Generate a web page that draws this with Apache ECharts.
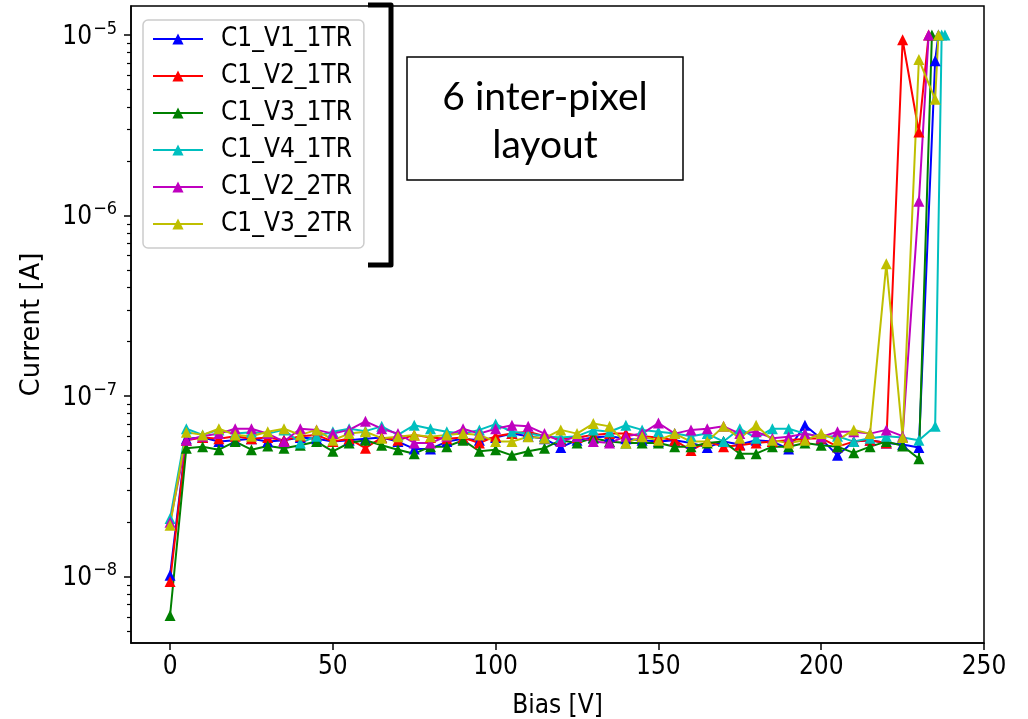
<!DOCTYPE html>
<html>
<head>
<meta charset="utf-8">
<script src="https://cdn.jsdelivr.net/npm/echarts@6/dist/echarts.min.js"></script>
<style>
  html, body { margin: 0; padding: 0; background: #fff; }
  #chart { width: 1028px; height: 719px; }
</style>
</head>
<body>
<div id="chart"></div>
<script>
// bias steps shared by all devices (V)
const biasV = [0, 5, 10, 15, 20, 25, 30, 35, 40, 45, 50, 55, 60, 65, 70, 75, 80, 85, 90, 95,
  100, 105, 110, 115, 120, 125, 130, 135, 140, 145, 150, 155, 160, 165, 170, 175, 180, 185, 190, 195,
  200, 205, 210, 215, 220, 225, 230];

// current (A) at each bias step
const curV1_1TR = [1.02e-8, 5.8e-8, 5.9e-8, 5.6e-8, 5.7e-8, 5.8e-8, 5.6e-8, 5.7e-8, 5.9e-8, 5.8e-8,
  5.6e-8, 5.7e-8, 5.8e-8, 5.9e-8, 5.6e-8, 5.1e-8, 5.1e-8, 5.6e-8, 5.8e-8, 5.7e-8,
  5.9e-8, 6.2e-8, 6.0e-8, 5.8e-8, 5.2e-8, 5.7e-8, 5.9e-8, 6.0e-8, 5.8e-8, 5.7e-8,
  5.6e-8, 5.7e-8, 5.5e-8, 5.2e-8, 5.6e-8, 5.4e-8, 5.7e-8, 5.6e-8, 5.1e-8, 6.9e-8,
  5.8e-8, 4.7e-8, 5.6e-8, 5.7e-8, 5.5e-8, 5.4e-8, 5.2e-8];
const curV2_1TR = [9.4e-9, 5.7e-8, 5.9e-8, 5.8e-8, 6.0e-8, 5.8e-8, 5.9e-8, 5.7e-8, 6.0e-8, 6.1e-8,
  5.6e-8, 5.8e-8, 5.15e-8, 5.9e-8, 5.7e-8, 6.1e-8, 5.9e-8, 5.8e-8, 5.9e-8, 5.5e-8,
  6.0e-8, 6.2e-8, 6.35e-8, 6.0e-8, 5.8e-8, 5.9e-8, 6.1e-8, 6.2e-8, 6.2e-8, 6.0e-8,
  5.9e-8, 5.7e-8, 5.0e-8, 5.6e-8, 5.25e-8, 5.35e-8, 5.5e-8, 5.6e-8, 5.7e-8, 5.8e-8,
  5.85e-8, 5.25e-8, 5.6e-8, 5.7e-8, 5.5e-8, 9.4e-6, 2.9e-6];
const curV3_1TR = [6.1e-9, 5.15e-8, 5.25e-8, 5.05e-8, 5.6e-8, 5.05e-8, 5.3e-8, 5.15e-8, 5.35e-8, 5.6e-8,
  4.95e-8, 5.5e-8, 5.7e-8, 5.35e-8, 5.05e-8, 4.8e-8, 5.25e-8, 5.25e-8, 5.7e-8, 4.95e-8,
  5.05e-8, 4.7e-8, 4.95e-8, 5.15e-8, 5.7e-8, 5.5e-8, 5.85e-8, 5.6e-8, 5.5e-8, 5.5e-8,
  5.5e-8, 5.25e-8, 5.25e-8, 5.5e-8, 5.6e-8, 4.8e-8, 4.8e-8, 5.25e-8, 5.25e-8, 5.5e-8,
  5.35e-8, 5.25e-8, 4.85e-8, 5.25e-8, 5.6e-8, 5.3e-8, 4.5e-8];
const curV4_1TR = [2.1e-8, 6.6e-8, 6.1e-8, 6.5e-8, 6.2e-8, 6.3e-8, 6.2e-8, 6.5e-8, 5.5e-8, 6.0e-8,
  6.35e-8, 6.6e-8, 6.4e-8, 6.8e-8, 6.1e-8, 6.9e-8, 6.6e-8, 6.35e-8, 6.2e-8, 6.5e-8,
  7.0e-8, 6.35e-8, 6.2e-8, 6.0e-8, 5.9e-8, 6.0e-8, 6.5e-8, 6.35e-8, 6.9e-8, 6.5e-8,
  6.35e-8, 6.2e-8, 6.0e-8, 6.2e-8, 5.6e-8, 6.6e-8, 5.85e-8, 6.6e-8, 6.6e-8, 6.2e-8,
  5.95e-8, 6.0e-8, 5.6e-8, 5.85e-8, 6.0e-8, 5.9e-8, 5.7e-8];
const curV2_2TR = [2.0e-8, 5.7e-8, 6.0e-8, 6.2e-8, 6.6e-8, 6.6e-8, 6.2e-8, 5.6e-8, 6.6e-8, 6.5e-8,
  6.2e-8, 6.5e-8, 7.25e-8, 6.6e-8, 6.2e-8, 5.5e-8, 5.5e-8, 6.0e-8, 6.6e-8, 6.2e-8,
  6.6e-8, 6.9e-8, 6.8e-8, 6.2e-8, 5.6e-8, 6.0e-8, 5.6e-8, 5.5e-8, 6.0e-8, 6.2e-8,
  7.1e-8, 6.2e-8, 6.5e-8, 6.6e-8, 6.8e-8, 6.2e-8, 6.35e-8, 5.85e-8, 5.95e-8, 6.2e-8,
  5.95e-8, 6.35e-8, 6.35e-8, 6.2e-8, 6.5e-8, 6.0e-8, 1.2e-6];
const curV3_2TR = [1.93e-8, 6.3e-8, 6.1e-8, 6.6e-8, 6.1e-8, 6.0e-8, 6.35e-8, 6.6e-8, 6.1e-8, 6.5e-8,
  5.7e-8, 6.2e-8, 6.35e-8, 5.85e-8, 5.95e-8, 6.1e-8, 5.95e-8, 6.1e-8, 6.2e-8, 6.1e-8,
  5.6e-8, 5.6e-8, 5.95e-8, 5.85e-8, 6.5e-8, 6.2e-8, 7.05e-8, 6.8e-8, 5.5e-8, 5.95e-8,
  5.7e-8, 6.2e-8, 5.6e-8, 5.6e-8, 6.8e-8, 5.85e-8, 6.9e-8, 5.7e-8, 5.5e-8, 5.7e-8,
  6.2e-8, 5.7e-8, 6.5e-8, 6.2e-8, 5.4e-7, 5.9e-8, 7.3e-6];

// extra points measured after breakdown
const tailBiasV1_1TR = [235, 236], tailCurV1_1TR = [7.2e-6, 1.0e-5];
const tailBiasV2_1TR = [233], tailCurV2_1TR = [1.0e-5];
const tailBiasV3_1TR = [234], tailCurV3_1TR = [1.0e-5];
const tailBiasV4_1TR = [235, 237, 238], tailCurV4_1TR = [6.8e-8, 1.0e-5, 1.0e-5];
const tailBiasV2_2TR = [233], tailCurV2_2TR = [1.0e-5];
const tailBiasV3_2TR = [235, 236], tailCurV3_2TR = [4.4e-6, 1.0e-5];

const names = ['C1_V1_1TR', 'C1_V2_1TR', 'C1_V3_1TR', 'C1_V4_1TR', 'C1_V2_2TR', 'C1_V3_2TR'];
const colors = ['#0000ff', '#ff0000', '#008000', '#00bfbf', '#bf00bf', '#bfbf00'];

const xTicks = [0, 50, 100, 150, 200, 250];
const yMajorExp = [-8, -7, -6, -5];
const yMinorMult = [2, 3, 4, 5, 6, 7, 8, 9];

const curves = [
  [curV1_1TR, tailBiasV1_1TR, tailCurV1_1TR],
  [curV2_1TR, tailBiasV2_1TR, tailCurV2_1TR],
  [curV3_1TR, tailBiasV3_1TR, tailCurV3_1TR],
  [curV4_1TR, tailBiasV4_1TR, tailCurV4_1TR],
  [curV2_2TR, tailBiasV2_2TR, tailCurV2_2TR],
  [curV3_2TR, tailBiasV3_2TR, tailCurV3_2TR]
];

const yMin = -8.367, yMax = -4.84;
const yMinor = [];
[-9, -8, -7, -6, -5].forEach(e => yMinorMult.forEach(m => {
  const v = e + Math.log10(m);
  if (v > yMin && v < yMax) yMinor.push(v);
}));

const font = "'DejaVu Sans Condensed', 'DejaVu Sans'";
const fs = 26;

const chart = echarts.init(document.getElementById('chart'));

const series = curves.map(([cur, tb, tc], i) => ({
  name: names[i],
  type: 'line',
  data: biasV.map((b, k) => [b, Math.log10(cur[k])])
    .concat(tb.map((b, k) => [b, Math.log10(tc[k])])),
  symbol: 'triangle',
  symbolSize: 11,
  showSymbol: true,
  lineStyle: { width: 2, color: colors[i] },
  itemStyle: { color: colors[i] },
  emphasis: { disabled: true },
  animation: false
}));

chart.setOption({
  animation: false,
  grid: {
    left: 131, right: 44, top: 6, bottom: 76,
    outerBoundsMode: 'none',
    show: true, borderColor: '#000', borderWidth: 1.5, backgroundColor: '#fff'
  },
  legend: {
    orient: 'vertical',
    left: 143,
    top: 20,
    padding: [6, 12, 11, 9],
    itemWidth: 50,
    itemHeight: 14,
    itemGap: 11,
    backgroundColor: 'rgba(255,255,255,0.8)',
    borderColor: '#cccccc',
    borderWidth: 1.5,
    borderRadius: 5,
    data: names,
    textStyle: { fontFamily: font, fontSize: fs, color: '#000', lineHeight: 26, padding: [0, 0, 0, 13] }
  },
  xAxis: {
    type: 'value',
    min: -12,
    max: 250,
    name: 'Bias [V]',
    nameLocation: 'middle',
    nameGap: 50,
    nameTextStyle: { fontFamily: font, fontSize: fs, color: '#000' },
    axisLine: { show: true, onZero: false, lineStyle: { color: '#000', width: 1.5 } },
    axisTick: { show: true, length: 7, customValues: xTicks, lineStyle: { color: '#000', width: 1.5 } },
    axisLabel: { customValues: xTicks, fontFamily: font, fontSize: fs, color: '#000', margin: 11 },
    splitLine: { show: false }
  },
  yAxis: [
    {
      type: 'value',
      min: yMin,
      max: yMax,
      name: 'Current [A]',
      nameLocation: 'middle',
      nameGap: 86,
      nameTextStyle: { fontFamily: 'DejaVu Sans', fontSize: 26, color: '#000' },
      axisLine: { show: true, onZero: false, lineStyle: { color: '#000', width: 1.5 } },
      axisTick: { show: true, length: 7, customValues: yMajorExp, lineStyle: { color: '#000', width: 1.5 } },
      axisLabel: {
        customValues: yMajorExp,
        margin: 14,
        formatter: v => '{b|10}{s|\u2212' + Math.abs(Math.round(v)) + '}',
        rich: {
          b: { fontFamily: font, fontSize: fs, color: '#000', lineHeight: 30, verticalAlign: 'bottom' },
          s: { fontFamily: font, fontSize: 18, color: '#000', verticalAlign: 'top', padding: [0, 0, 0, 1] }
        }
      },
      splitLine: { show: false }
    },
    {
      type: 'value',
      min: yMin,
      max: yMax,
      position: 'left',
      axisLine: { show: false, onZero: false },
      axisTick: { show: true, length: 4, customValues: yMinor, lineStyle: { color: '#000', width: 1.2 } },
      axisLabel: { show: false },
      splitLine: { show: false }
    }
  ],
  series: series,
  graphic: [
    {
      type: 'polyline',
      shape: { points: [[368, 5], [391, 5], [391, 265], [368, 265]] },
      style: { stroke: '#000', lineWidth: 5, fill: null, lineJoin: 'round', lineCap: 'butt' },
      z: 100
    },
    {
      type: 'rect',
      shape: { x: 407, y: 57, width: 276, height: 123 },
      style: { fill: '#fff', stroke: '#000', lineWidth: 1.5 },
      z: 100
    },
    {
      type: 'text',
      x: 545,
      y: 121,
      style: {
        text: '6 inter-pixel\nlayout',
        font: '39px Lato',
        fill: '#000',
        align: 'center',
        verticalAlign: 'middle',
        lineHeight: 48
      },
      z: 101
    }
  ]
});
</script>
</body>
</html>
